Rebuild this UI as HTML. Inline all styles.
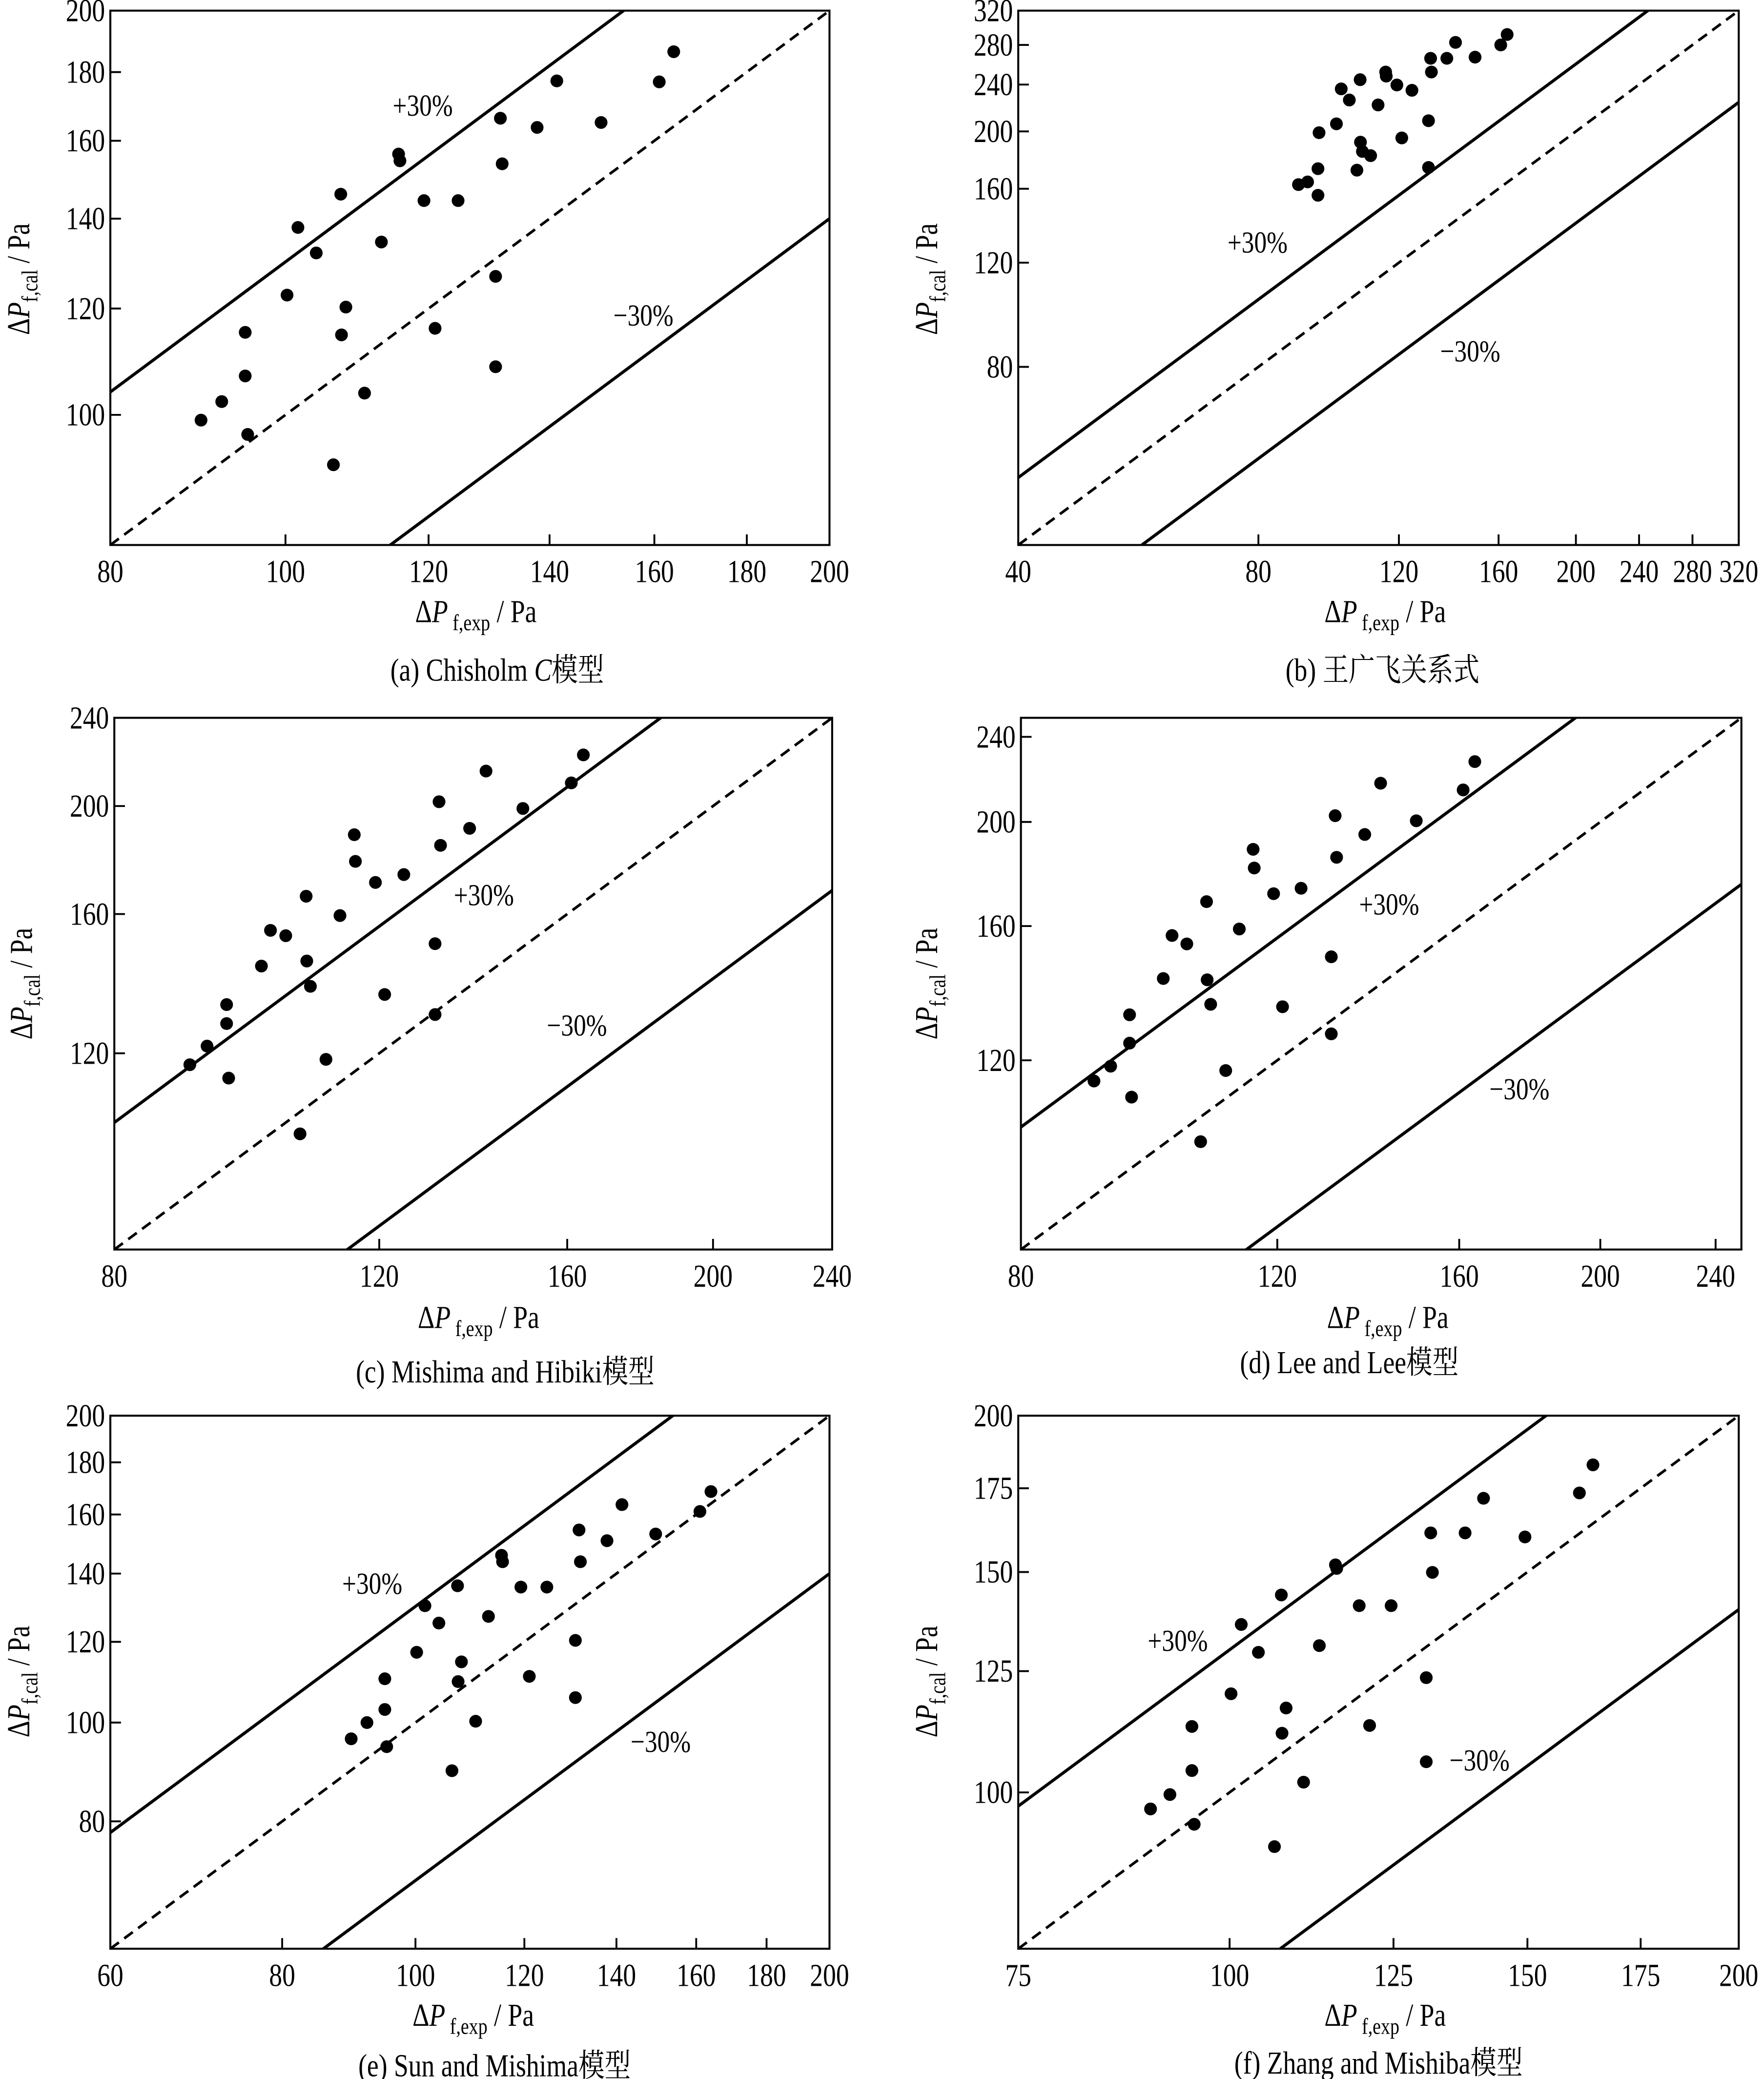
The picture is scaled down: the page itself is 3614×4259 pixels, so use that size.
<!DOCTYPE html>
<html><head><meta charset="utf-8"><style>
html,body{margin:0;padding:0;background:#fff;}
svg{display:block;}
text{font-family:"Liberation Serif","Noto Serif CJK SC","Noto Sans CJK SC",serif;fill:#000;}
</style></head><body>
<svg id="fig" xmlns="http://www.w3.org/2000/svg" width="3614" height="4259" viewBox="0 0 1327 1564" preserveAspectRatio="none"></svg>
<script>
const expData=[89.8,92.2,95,95,95.3,100.2,101.6,104,106.3,107.3,107.4,108,110.6,113,115.5,115.7,119.3,121,124.6,130.7,130.7,131.5,131.8,137.8,141.3,149.5,161,164];
const calA=[99.1,102.3,115.2,106.9,96.7,122.8,137.9,132,91.8,146,114.7,120.3,103.8,134.5,156.4,154.6,144.4,116,144.4,126.8,108.6,166.3,153.8,163.7,177.3,165.1,177,186.4];
const calB=[162.6,164.3,173,156,199,206,236,226,172,244.6,191.8,185,182,221.7,252,248,239.6,195,234.7,208.5,173.8,265.8,252,265.8,282.8,267,280,291.6];
const calC=[117.2,121.8,127.6,132.7,114,143.7,154.7,153,101.6,166,145.2,137.8,118.5,159.5,188.5,178.4,170.8,135.5,173.6,150.5,130,201.8,184.4,191,215,199,209.8,222.3];
const calD=[114.8,118.5,124.5,132.3,110.9,143,156.8,154,100.8,168.6,142.6,135.3,117.4,159,188.6,181.2,171.5,134.6,173.5,149.8,127,202.7,185.4,194.7,217.3,200.5,214.2,227.6];
const calE=[96.4,100,110.4,103,94.7,117.2,130.2,125.2,89.7,136.2,109.7,114.7,100.3,127.1,145.9,143.8,135.8,111,135.8,120.4,105.8,154.5,143.8,150.8,163.6,153.1,161.1,168.5];
const calF=[97,99.6,112.9,104.1,94.3,119.9,136.2,129.4,90.5,143.8,111.5,116.8,101.9,131,152,151,141,113.1,141,123.5,105.8,161.2,149.9,161.2,171.8,160,173.5,182.7];
const ticksA=[80,100,120,140,160,180,200];
const ticksAy=[100,120,140,160,180,200];
const ticksB=[40,80,120,160,200,240,280,320];
const ticksBy=[80,120,160,200,240,280,320];
const ticksC=[80,120,160,200,240];
const ticksCy=[120,160,200,240];
const ticksE=[60,80,100,120,140,160,180,200];
const ticksEy=[80,100,120,140,160,180,200];
const ticksF=[75,100,125,150,175,200];
const ticksFy=[100,125,150,175,200];
const captions=["(a) Chisholm ","(b) 王广飞关系式","(c) Mishima and Hibiki模型","(d) Lee and Lee模型","(e) Sun and Mishima模型","(f) Zhang and Mishiba模型"];

const NS="http://www.w3.org/2000/svg";
const svg=document.getElementById('fig');
function mk(tag,attrs,parent){const e=document.createElementNS(NS,tag);for(const k in attrs)e.setAttribute(k,attrs[k]);(parent||svg).appendChild(e);return e;}
function txt(parent,x,y,s,size,anchor,sx){const t=mk('text',{transform:`translate(${x},${y}) scale(${sx||0.82},1)`,'font-size':size,'text-anchor':anchor||'middle'},parent);t.textContent=s;return t;}

const panels=[
 {id:'a',x0:83,x1:624,y0:8,y1:410,min:80,max:200,xt:ticksA,yt:ticksAy,cal:calA,p:[318,87],m:[484,245],cap:[374,512],xl:[358,468],yl:[22,210]},
 {id:'b',x0:766,x1:1308,y0:8,y1:410,min:40,max:320,xt:ticksB,yt:ticksBy,cal:calB,p:[946,190],m:[1106,272],cap:[1040,512],xl:[1042,468],yl:[705,210]},
 {id:'c',x0:86,x1:626,y0:540,y1:940,min:80,max:240,xt:ticksC,yt:ticksCy,cal:calC,p:[364,681],m:[434,779],cap:[380,1040],xl:[360,999],yl:[24,740]},
 {id:'d',x0:768,x1:1310,y0:540,y1:940,min:80,max:250,xt:ticksC,yt:ticksCy,cal:calD,p:[1045,688],m:[1143,827],cap:[1015,1033],xl:[1044,999],yl:[705,740]},
 {id:'e',x0:83,x1:624,y0:1065,y1:1466,min:60,max:200,xt:ticksE,yt:ticksEy,cal:calE,p:[280,1199],m:[497,1318],cap:[372,1562],xl:[356,1524],yl:[22,1265]},
 {id:'f',x0:766,x1:1308,y0:1065,y1:1466,min:75,max:200,xt:ticksF,yt:ticksFy,cal:calF,p:[886,1242],m:[1113,1332],cap:[1037,1560],xl:[1042,1524],yl:[705,1265]}
];

panels.forEach((P,pi)=>{
 const g=mk('g',{});
 
 
 const L=Math.log(P.max/P.min);
 const sx=v=>P.x0+Math.log(v/P.min)/L*(P.x1-P.x0);
 const sy=v=>P.y1-Math.log(v/P.min)/L*(P.y1-P.y0);
 const clip=mk('clipPath',{id:'clip'+P.id},g);
 mk('rect',{x:P.x0,y:P.y0,width:P.x1-P.x0,height:P.y1-P.y0},clip);
 const lg=mk('g',{'clip-path':`url(#clip${P.id})`},g);
 [[1.3,'none','plus-30-line'],[1,'8,5','parity-line'],[0.7,'none','minus-30-line']].forEach(([f,d,n])=>{
  const l=mk('line',{x1:sx(P.min),y1:sy(P.min*f),x2:sx(P.max),y2:sy(P.max*f),stroke:'#000','stroke-width':f===1?2:2.3,'stroke-dasharray':d},lg);
  
  
 });
 const frame=mk('rect',{x:P.x0,y:P.y0,width:P.x1-P.x0,height:P.y1-P.y0,fill:'none',stroke:'#000','stroke-width':1.5},g);
 
 
 P.xt.forEach(v=>{
  const x=sx(v);
  if(v!==P.min&&v!==P.max) mk('line',{x1:x,y1:P.y1,x2:x,y2:P.y1-8,stroke:'#000','stroke-width':1.4},g);
  const t=txt(g,x,P.y1+28,String(v),24);
  
  
 });
 P.yt.forEach(v=>{
  const y=sy(v);
  if(v!==P.max) mk('line',{x1:P.x0,y1:y,x2:P.x0+8,y2:y,stroke:'#000','stroke-width':1.4},g);
  const t=txt(g,P.x0-4,y+8,String(v),24,'end');
  
  
 });
 expData.forEach((v,i)=>{
  const c=mk('circle',{cx:sx(v),cy:sy(P.cal[i]),r:4.8,fill:'#000'},g);
  
  
 });
 const tp=txt(g,P.p[0],P.p[1],'+30%',23);
 
 
 const tm=txt(g,P.m[0],P.m[1],'−30%',23);
 
 
 const xt=mk('text',{transform:`translate(${P.xl[0]},${P.xl[1]}) scale(0.82,1)`,'font-size':24,'text-anchor':'middle'},g);
 
 
 xt.innerHTML='Δ<tspan font-style="italic">P</tspan><tspan font-size="17" dy="6"> f,exp</tspan><tspan dy="-6"> /  Pa</tspan>';
 const yt=mk('text',{transform:`translate(${P.yl[0]},${P.yl[1]}) rotate(-90) scale(0.82,1)`,'font-size':24,'text-anchor':'middle'},g);
 
 
 yt.innerHTML='Δ<tspan font-style="italic">P</tspan><tspan font-size="17" dy="6">f,cal</tspan><tspan dy="-6"> /  Pa</tspan>';
 const cp=mk('text',{transform:`translate(${P.cap[0]},${P.cap[1]}) scale(0.82,1)`,'font-size':24,'text-anchor':'middle'},g);
 
 
 if(pi===0){cp.innerHTML=captions[0]+'<tspan font-style="italic">C</tspan>模型';} else cp.textContent=captions[pi];
});
</script>
</body></html>
